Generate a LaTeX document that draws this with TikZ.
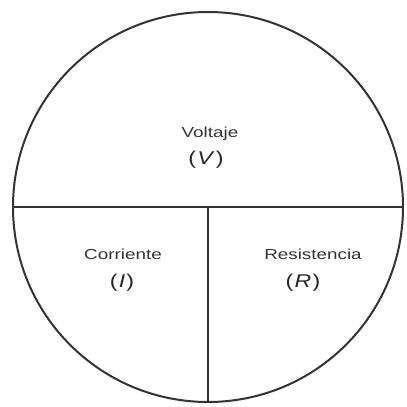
\documentclass[tikz,border=0pt]{standalone}
\usepackage{fontspec}
\setmainfont{Liberation Sans}
\begin{document}
\begin{tikzpicture}[x=1pt,y=-1pt,
  lbl/.style={text=black!80, inner sep=0pt, font=\fontsize{14.5}{16}\selectfont},
  sym/.style={text=black!85, inner sep=0pt, font=\fontsize{18.5}{20}\selectfont},
  ln/.style={draw=black!80, line width=2pt}]
\useasboundingbox (0,0) rectangle (407,407);
\node[circle, ln, minimum size=390pt, inner sep=0pt] (c) at (208,207) {};
\coordinate (M) at (208,207);
\draw[ln] (c.west) -- (c.east);
\draw[ln] (M) -- (c.south);
\node[lbl] (v) at (210,134) {\scalebox{1.3}[1]{Voltaje}};
\node[sym] (vs) at (206,160) {\scalebox{1.25}[1]{(\kern1pt\textit{V}\kern1pt)}};
\node[lbl] (i) at (123,254) {\scalebox{1.3}[1]{Corriente}};
\node[sym] (is) at (122,283) {\scalebox{1.25}[1]{(\kern1pt\textit{I}\kern1pt)}};
\node[lbl] (r) at (313,254) {\scalebox{1.3}[1]{Resistencia}};
\node[sym] (rs) at (303,283) {\scalebox{1.25}[1]{(\kern1pt\textit{R}\kern1pt)}};
\end{tikzpicture}
\end{document}
